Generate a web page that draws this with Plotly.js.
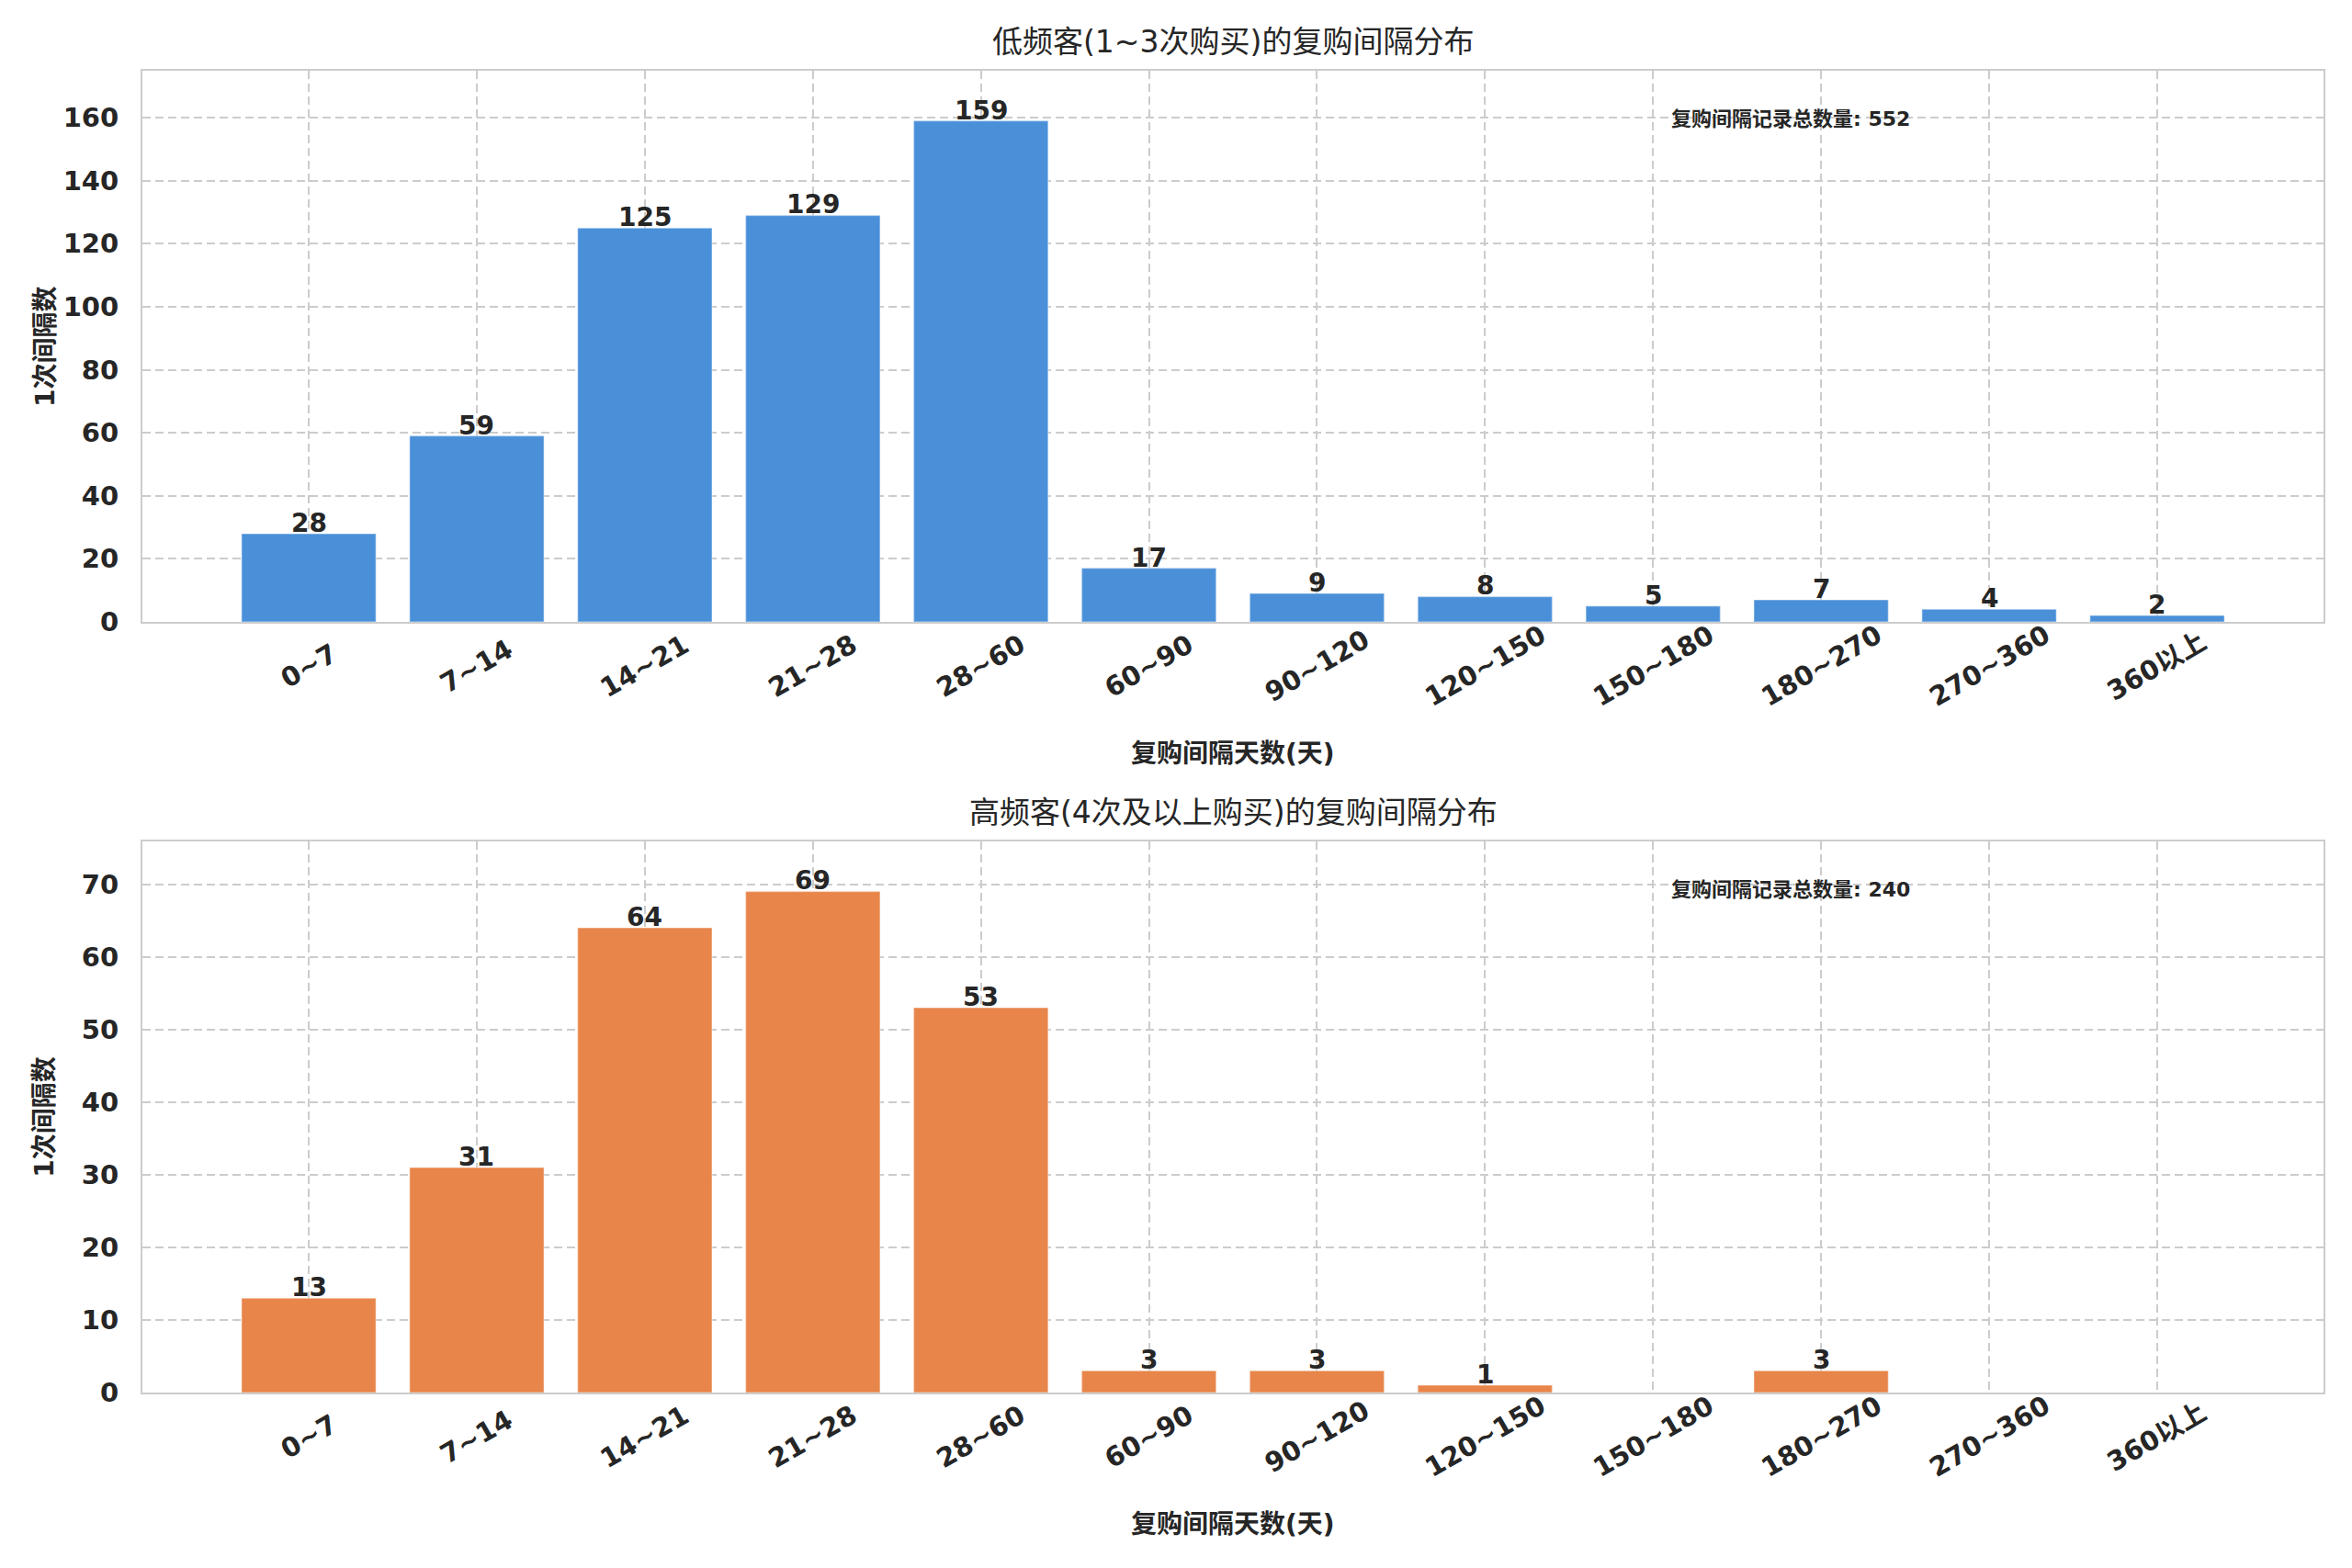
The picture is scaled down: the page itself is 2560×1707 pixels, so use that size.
<!DOCTYPE html>
<html>
<head>
<meta charset="utf-8">
<script src="https://cdn.plot.ly/plotly-3.0.1.min.js"></script>
<style>
  html, body { margin: 0; padding: 0; background: #fff; }
  #plot { width: 2560px; height: 1707px; }
</style>
</head>
<body>
<div id="plot"></div>
<script>
// interval bins (days)
const bins = ["0~7", "7~14", "14~21", "21~28", "28~60", "60~90", "90~120",
              "120~150", "150~180", "180~270", "270~360", "360以上"];

// low frequency customers (1~3 purchases)
const lowCounts = [28, 59, 125, 129, 159, 17, 9, 8, 5, 7, 4, 2];
// high frequency customers (4+ purchases)
const highCounts = [13, 31, 64, 69, 53, 3, 3, 1, 0, 3, 0, 0];

const titles = ["低频客(1~3次购买)的复购间隔分布", "高频客(4次及以上购买)的复购间隔分布"];
const xLabel = "复购间隔天数(天)";
const yLabel = "1次间隔数";
const totalLabel = "复购间隔记录总数量";
const colors = ["#4a90d9", "#e8854a"];

const FONT = "DejaVu Sans, Noto Sans CJK SC, sans-serif";
const INK = "#262626";
const idx = bins.map((_, i) => i);

function barTrace(values, color, ax) {
    return {
        type: "bar",
        x: idx,
        y: values,
        width: 0.8,
        marker: { color: color, line: { color: "rgba(255,255,255,0.35)", width: 1.5 } },
        xaxis: "x" + ax,
        yaxis: "y" + ax,
        hoverinfo: "skip",
        showlegend: false
    };
}

function axisPair(ax, values, domain, step) {
    const common = {
        showline: true, linecolor: "#cccccc", linewidth: 2, mirror: true,
        showgrid: true, gridcolor: "#cccccc", griddash: "9px,5px", gridwidth: 2,
        zeroline: false, ticks: "",
        tickfont: { family: FONT, size: 29, color: INK, weight: "bold" }
    };
    const x = Object.assign({}, common, {
        domain: [0, 1],
        anchor: "y" + ax,
        range: [-0.99, 11.99],
        tickmode: "array",
        tickvals: idx,
        showticklabels: false   // drawn as centred, rotated annotations below
    });
    const y = Object.assign({}, common, {
        domain: domain,
        anchor: "x" + ax,
        range: [0, Math.max(...values) * 1.1],
        dtick: step,
        ticklabelstandoff: 18
    });
    return [x, y];
}

const [x1, y1] = axisPair("", lowCounts, [0.5831, 1], 20);
const [x2, y2] = axisPair("2", highCounts, [0, 0.417], 10);

function valueLabels(values, ax) {
    return values.map((v, i) => ({ v, i })).filter(d => d.v > 0).map(d => ({
        x: d.i, y: d.v, xref: "x" + ax, yref: "y" + ax,
        text: String(d.v), showarrow: false, yanchor: "bottom", yshift: -7,
        font: { family: FONT, size: 28, color: INK, weight: "bold" }
    }));
}

function tickLabels(ax) {
    return bins.map((b, i) => ({
        x: i, y: 0, xref: "x" + ax, yref: "y" + ax + " domain",
        text: b, showarrow: false, textangle: -30,
        xanchor: "center", yanchor: "middle", yshift: -48,
        font: { family: FONT, size: 29, color: INK, weight: "bold" }
    }));
}

function sum(a) { return a.reduce((s, v) => s + v, 0); }

function panelText(ax, values, title, xlabY, ylabY) {
    return [
        { x: 0.7, y: 0.913, xref: "x" + ax + " domain", yref: "y" + ax + " domain",
          xanchor: "left", yanchor: "middle",
          text: totalLabel + ": " + sum(values), showarrow: false,
          font: { family: FONT, size: 22, color: INK, weight: "bold" } },
        { x: 0.5, y: 1, xref: "x" + ax + " domain", yref: "y" + ax + " domain",
          yanchor: "bottom", yshift: 10,
          text: title, showarrow: false,
          font: { family: FONT, size: 33, color: INK } },
        { x: 0.5, y: xlabY, xref: "paper", yref: "paper", yanchor: "middle",
          text: xLabel, showarrow: false,
          font: { family: FONT, size: 28, color: INK, weight: "bold" } },
        { x: -0.0447, y: ylabY, xref: "paper", yref: "paper",
          xanchor: "center", yanchor: "middle", textangle: -90,
          text: yLabel, showarrow: false,
          font: { family: FONT, size: 28, color: INK, weight: "bold" } }
    ];
}

const annotations = [
    ...valueLabels(lowCounts, ""),
    ...valueLabels(highCounts, "2"),
    ...tickLabels(""),
    ...tickLabels("2"),
    ...panelText("", lowCounts, titles[0], 0.483, 0.7915),
    ...panelText("2", highCounts, titles[1], -0.0994, 0.2085)
];

Plotly.newPlot("plot",
    [barTrace(lowCounts, colors[0], ""), barTrace(highCounts, colors[1], "2")],
    {
        width: 2560,
        height: 1707,
        margin: { l: 155, r: 31, t: 77, b: 191 },
        paper_bgcolor: "#ffffff",
        plot_bgcolor: "#ffffff",
        font: { family: FONT, color: INK },
        xaxis: x1, yaxis: y1,
        xaxis2: x2, yaxis2: y2,
        annotations: annotations
    },
    { staticPlot: true }
);
</script>
</body>
</html>
